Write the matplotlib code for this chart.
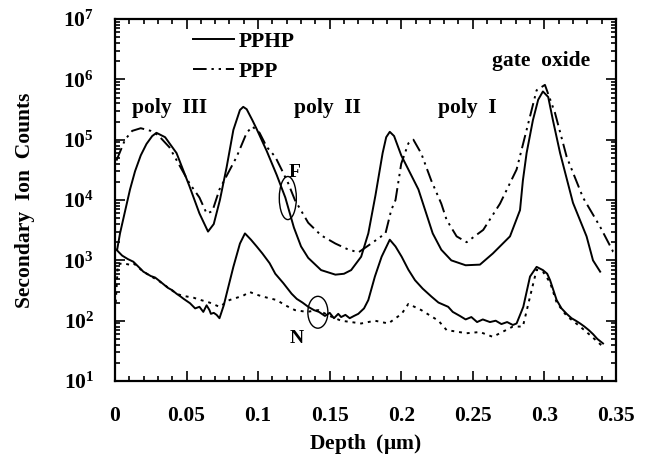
import math
import matplotlib
matplotlib.use("Agg")
import matplotlib.pyplot as plt
from matplotlib.patches import Ellipse
from matplotlib.ticker import LogLocator, FixedLocator, FixedFormatter, FuncFormatter, NullFormatter, MultipleLocator

plt.rcParams['font.family'] = ['Liberation Serif', 'DejaVu Serif']
plt.rcParams['font.weight'] = 'bold'
plt.rcParams['mathtext.fontset'] = 'custom'
plt.rcParams['mathtext.rm'] = 'Liberation Serif:bold'
plt.rcParams['mathtext.bf'] = 'Liberation Serif:bold'
plt.rcParams['mathtext.it'] = 'Liberation Serif:bold:italic'

# ---------------- data ----------------
f_pphp_depth = [0.0015, 0.0035, 0.007, 0.0105, 0.014, 0.018, 0.022, 0.026, 0.029, 0.035,
                0.043, 0.052, 0.059, 0.065, 0.069, 0.0733, 0.078, 0.0827, 0.0873, 0.0896,
                0.092, 0.096, 0.099, 0.106, 0.113, 0.119, 0.125, 0.130, 0.135, 0.144,
                0.154, 0.160, 0.165, 0.172, 0.177, 0.182, 0.187, 0.1895, 0.192, 0.195,
                0.200, 0.212, 0.222, 0.228, 0.235, 0.245, 0.255, 0.264, 0.276, 0.283,
                0.285, 0.2876, 0.292, 0.2957, 0.299, 0.3027, 0.306, 0.311, 0.320, 0.3295,
                0.334, 0.339]
f_pphp_counts = [1.5e3, 2.8e3, 6.5e3, 1.5e4, 3.0e4, 5.5e4, 8.5e4, 1.15e5, 1.3e5, 1.1e5,
                 6.0e4, 1.7e4, 6.0e3, 3.0e3, 4.0e3, 1.0e4, 3.5e4, 1.45e5, 3.1e5, 3.5e5,
                 3.2e5, 2.1e5, 1.5e5, 6.5e4, 2.6e4, 1.1e4, 3.5e3, 1.7e3, 1.1e3, 6.9e2,
                 5.8e2, 6.0e2, 6.9e2, 1.15e3, 2.8e3, 1.2e4, 6.0e4, 1.1e5, 1.35e5, 1.15e5,
                 5.5e4, 1.5e4, 2.8e3, 1.5e3, 1.0e3, 8.3e2, 8.5e2, 1.3e3, 2.5e3, 6.8e3,
                 2.1e4, 6.0e4, 2.1e5, 4.6e5, 6.3e5, 5.1e5, 2.1e5, 6.0e4, 9.0e3, 2.5e3,
                 1.0e3, 6.5e2]

f_ppp_depth = [0.001, 0.007, 0.012, 0.018, 0.025, 0.030, 0.038, 0.052, 0.059, 0.064,
               0.068, 0.073, 0.085, 0.092, 0.096, 0.101, 0.106, 0.112, 0.1164, 0.121,
               0.1257, 0.135, 0.144, 0.154, 0.162, 0.170, 0.179, 0.189, 0.193, 0.196,
               0.200, 0.205, 0.2085, 0.214, 0.221, 0.228, 0.2317, 0.2387, 0.2457, 0.2573,
               0.269, 0.2806, 0.2876, 0.2946, 0.3004, 0.3074, 0.3156, 0.327, 0.339, 0.348,
               0.350]
f_ppp_counts = [4.5e4, 1.0e5, 1.4e5, 1.55e5, 1.4e5, 1.2e5, 7.5e4, 1.9e4, 1.1e4, 6.0e3,
                6.5e3, 1.5e4, 5.2e4, 1.3e5, 1.65e5, 1.3e5, 7.6e4, 5.2e4, 3.2e4, 1.9e4,
                1.0e4, 4.2e3, 2.6e3, 1.9e3, 1.55e3, 1.35e3, 1.9e3, 2.8e3, 6.8e3, 1.0e4,
                4.0e4, 8.7e4, 1.0e5, 5.9e4, 2.1e4, 8.7e3, 4.7e3, 2.5e3, 2.0e3, 3.2e3,
                8.7e3, 3.2e4, 1.45e5, 6.6e5, 8.1e5, 2.8e5, 5.2e4, 1.1e4, 3.6e3, 1.4e3,
                1.3e3]

n_pphp_depth = [0.001, 0.005, 0.009, 0.0128, 0.016, 0.0198, 0.025, 0.028, 0.0314, 0.034,
                0.037, 0.040, 0.043, 0.046, 0.048, 0.0524, 0.056, 0.059, 0.0617, 0.064,
                0.066, 0.067, 0.069, 0.071, 0.073, 0.076, 0.078, 0.0827, 0.0873, 0.0908,
                0.095, 0.099, 0.103, 0.108, 0.112, 0.1176, 0.1234, 0.127, 0.131, 0.135,
                0.139, 0.1425, 0.1467, 0.150, 0.153, 0.156, 0.158, 0.161, 0.164, 0.167,
                0.170, 0.174, 0.177, 0.1816, 0.1863, 0.192, 0.196, 0.2003, 0.205, 0.2096,
                0.215, 0.2212, 0.226, 0.2328, 0.236, 0.241, 0.245, 0.249, 0.253, 0.257,
                0.262, 0.266, 0.270, 0.274, 0.278, 0.2806, 0.2853, 0.29, 0.2946, 0.299,
                0.302, 0.304, 0.3086, 0.312, 0.3156, 0.319, 0.322, 0.325, 0.328, 0.331,
                0.334, 0.337, 0.341]
n_pphp_counts = [1.5e3, 1.2e3, 1.05e3, 9.5e2, 8.0e2, 6.5e2, 5.5e2, 5.2e2, 4.5e2, 4.0e2,
                 3.5e2, 3.2e2, 2.8e2, 2.5e2, 2.3e2, 1.95e2, 1.6e2, 1.7e2, 1.4e2, 1.8e2,
                 1.5e2, 1.3e2, 1.35e2, 1.25e2, 1.1e2, 1.8e2, 2.8e2, 7.8e2, 1.9e3, 2.8e3,
                 2.2e3, 1.7e3, 1.3e3, 9.0e2, 6.0e2, 4.2e2, 2.8e2, 2.3e2, 2.0e2, 1.7e2,
                 1.5e2, 1.4e2, 1.2e2, 1.35e2, 1.1e2, 1.3e2, 1.15e2, 1.25e2, 1.1e2, 1.2e2,
                 1.3e2, 1.6e2, 2.2e2, 5.4e2, 1.15e3, 2.2e3, 1.7e3, 1.15e3, 7.0e2, 4.7e2,
                 3.4e2, 2.5e2, 2.0e2, 1.7e2, 1.4e2, 1.2e2, 1.05e2, 1.15e2, 9.5e1, 1.05e2,
                 9.5e1, 1.0e2, 8.8e1, 9.5e1, 8.5e1, 9.0e1, 1.7e2, 5.4e2, 7.8e2, 6.9e2,
                 6.0e2, 4.7e2, 2.2e2, 1.6e2, 1.3e2, 1.1e2, 1.0e2, 9.0e1, 8.0e1, 7.0e1,
                 6.0e1, 5.0e1, 4.2e1]

n_ppp_depth = [0.0005, 0.002, 0.005, 0.010, 0.0128, 0.0198, 0.031, 0.043, 0.047, 0.055,
               0.060, 0.066, 0.073, 0.080, 0.085, 0.0896, 0.094, 0.099, 0.1036, 0.113,
               0.119, 0.1257, 0.134, 0.142, 0.150, 0.158, 0.165, 0.172, 0.1816, 0.191,
               0.2003, 0.205, 0.214, 0.226, 0.2317, 0.2457, 0.255, 0.264, 0.278, 0.285,
               0.29, 0.2946, 0.299, 0.304, 0.3086, 0.3156, 0.325, 0.333, 0.341]
n_ppp_counts = [2.0e2, 8.5e2, 9.0e2, 8.5e2, 9.0e2, 6.5e2, 4.5e2, 2.8e2, 2.6e2, 2.4e2,
                2.2e2, 2.0e2, 1.7e2, 2.2e2, 2.4e2, 2.6e2, 3.0e2, 2.7e2, 2.5e2, 2.2e2,
                1.8e2, 1.5e2, 1.4e2, 1.5e2, 1.2e2, 1.0e2, 9.5e1, 9.0e1, 1.0e2, 9.0e1,
                1.3e2, 1.9e2, 1.5e2, 1.0e2, 7.0e1, 6.2e1, 6.5e1, 5.4e1, 8.0e1, 8.0e1,
                2.5e2, 7.0e2, 6.5e2, 4.3e2, 2.0e2, 1.2e2, 8.0e1, 5.5e1, 3.7e1]

x_ticks = [0, 0.05, 0.1, 0.15, 0.2, 0.25, 0.3, 0.35]
x_tick_labels = ['0', '0.05', '0.1', '0.15', '0.2', '0.25', '0.3', '0.35']
y_exponents = [1, 2, 3, 4, 5, 6, 7]
series_labels = ['PPHP', 'PPP']

# ---------------- figure ----------------
fig = plt.figure(figsize=(6.49, 4.58), dpi=100)
ax = fig.add_axes([0.1772, 0.168, 0.7718, 0.7905])

lw = 1.4
dashdotdot = (0, (7, 2.5, 1.2, 2.5, 1.2, 2.5))
dotted = (0, (1.5, 2.5))

l1, = ax.plot(f_pphp_depth, f_pphp_counts, color='black', lw=lw, ls='-')
l2, = ax.plot(f_ppp_depth, f_ppp_counts, color='black', lw=lw, ls=dashdotdot)
ax.plot(n_pphp_depth, n_pphp_counts, color='black', lw=lw, ls='-')
ax.plot(n_ppp_depth, n_ppp_counts, color='black', lw=lw, ls=dotted)

ax.set_yscale('log')
ax.set_xlim(0, 0.35)
ax.set_ylim(10, 1e7)

ax.xaxis.set_major_locator(FixedLocator(x_ticks))
ax.xaxis.set_major_formatter(FixedFormatter(x_tick_labels))
ax.xaxis.set_minor_locator(MultipleLocator(0.01))
ax.yaxis.set_major_locator(FixedLocator([10.0 ** e for e in y_exponents]))
ax.yaxis.set_major_formatter(FuncFormatter(lambda v, p: r'$10^{%d}$' % round(math.log10(v))))
ax.yaxis.set_minor_locator(LogLocator(base=10, subs=range(2, 10), numticks=20))
ax.yaxis.set_minor_formatter(NullFormatter())

ax.tick_params(which='both', direction='in', top=True, right=True, width=1.2, labelsize=15.5)
ax.tick_params(which='major', length=7)
ax.tick_params(which='minor', length=3.5)
ax.tick_params(axis='x', which='major', pad=18)
ax.tick_params(axis='y', which='major', pad=15)
for s in ax.spines.values():
    s.set_linewidth(1.6)

ax.set_xlabel(r'Depth  ($\mathbf{\mu}$m)', fontsize=15.5, fontweight='bold', labelpad=4)
ax.set_ylabel('Secondary  Ion  Counts', fontsize=15.5, fontweight='bold', labelpad=20)

ax.legend([l1, l2], series_labels, loc='upper left', bbox_to_anchor=(0.155, 0.965),
          frameon=False, fontsize=15.5, handlelength=1.9, handletextpad=0.25,
          labelspacing=0.45, borderpad=0, borderaxespad=0)

ts = 15.5
ax.text(0.0384, 3.4e5, 'poly  III', ha='center', va='center', fontsize=ts, fontweight='bold')
ax.text(0.1487, 3.4e5, 'poly  II', ha='center', va='center', fontsize=ts, fontweight='bold')
ax.text(0.246, 3.4e5, 'poly  I', ha='center', va='center', fontsize=ts, fontweight='bold')
ax.text(0.298, 2.0e6, 'gate  oxide', ha='center', va='center', fontsize=ts, fontweight='bold')
ax.text(0.1257, 2.9e4, 'F', ha='center', va='center', fontsize=14, fontweight='bold')
ax.text(0.127, 5.0e1, 'N', ha='center', va='center', fontsize=14, fontweight='bold')

ax.add_patch(Ellipse((0.345, 0.5055), 0.034, 0.119, transform=ax.transAxes,
                     fill=False, ec='black', lw=1.0))
ax.add_patch(Ellipse((0.405, 0.19), 0.04, 0.088, transform=ax.transAxes,
                     fill=False, ec='black', lw=1.0))

fig.savefig('out.png', dpi=100)
